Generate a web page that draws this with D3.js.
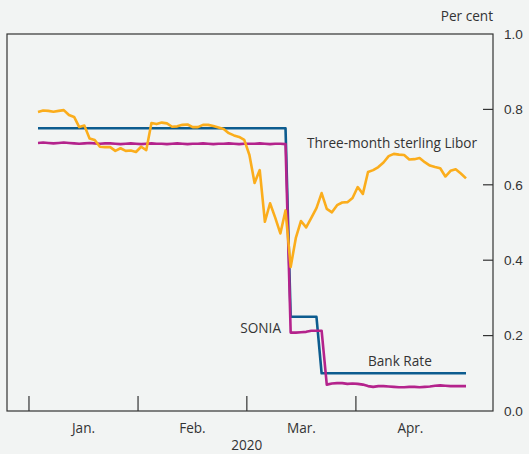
<!DOCTYPE html>
<html>
<head>
<meta charset="utf-8">
<script src="https://cdn.jsdelivr.net/npm/d3@7"></script>
<style>
  body { margin: 0; background: #f2f4f3; }
  svg { display: block; font-family: "Open Sans", sans-serif; }
  .lbl { fill: #333; font-size: 13.6px; }
</style>
</head>
<body>
<div id="chart"></div>
<script>
// daily observations (trading days, 2 Jan to 30 Apr 2020)
var libor = [
  0.793, 0.797, 0.796, 0.794, 0.796, 0.798, 0.785, 0.780, 0.753, 0.757,
  0.723, 0.719, 0.701, 0.700, 0.700, 0.690, 0.697, 0.690, 0.691, 0.687,
  0.701, 0.692, 0.764, 0.761, 0.765, 0.763, 0.754, 0.755, 0.759, 0.760,
  0.753, 0.753, 0.759, 0.759, 0.756, 0.752, 0.748, 0.737, 0.731, 0.727,
  0.719, 0.679, 0.605, 0.639, 0.502, 0.551, 0.513, 0.471, 0.532, 0.382,
  0.459, 0.504, 0.487, 0.512, 0.538, 0.578, 0.536, 0.527, 0.546, 0.553,
  0.554, 0.565, 0.594, 0.576, 0.634, 0.639, 0.647, 0.659, 0.676, 0.682,
  0.680, 0.679, 0.667, 0.668, 0.671, 0.660, 0.651, 0.647, 0.644, 0.622,
  0.637, 0.641, 0.630, 0.617
];
var sonia = [
  0.711, 0.712, 0.711, 0.710, 0.711, 0.712, 0.711, 0.710, 0.709, 0.710,
  0.711, 0.710, 0.709, 0.710, 0.710, 0.709, 0.708, 0.709, 0.710, 0.709,
  0.708, 0.709, 0.710, 0.709, 0.709, 0.708, 0.709, 0.710, 0.709, 0.708,
  0.709, 0.709, 0.710, 0.709, 0.708, 0.709, 0.709, 0.710, 0.709, 0.708,
  0.709, 0.709, 0.709, 0.710, 0.709, 0.708, 0.709, 0.709, 0.708, 0.208,
  0.208, 0.209, 0.210, 0.213, 0.213, 0.213, 0.070, 0.073, 0.074, 0.074,
  0.072, 0.073, 0.072, 0.070, 0.066, 0.064, 0.066, 0.066, 0.065, 0.064,
  0.063, 0.063, 0.064, 0.064, 0.063, 0.064, 0.065, 0.067, 0.068, 0.067,
  0.066, 0.066, 0.066, 0.066
];
var bankRate = [
  0.75, 0.75, 0.75, 0.75, 0.75, 0.75, 0.75, 0.75, 0.75, 0.75,
  0.75, 0.75, 0.75, 0.75, 0.75, 0.75, 0.75, 0.75, 0.75, 0.75,
  0.75, 0.75, 0.75, 0.75, 0.75, 0.75, 0.75, 0.75, 0.75, 0.75,
  0.75, 0.75, 0.75, 0.75, 0.75, 0.75, 0.75, 0.75, 0.75, 0.75,
  0.75, 0.75, 0.75, 0.75, 0.75, 0.75, 0.75, 0.75, 0.75, 0.25,
  0.25, 0.25, 0.25, 0.25, 0.25, 0.10, 0.10, 0.10, 0.10, 0.10,
  0.10, 0.10, 0.10, 0.10, 0.10, 0.10, 0.10, 0.10, 0.10, 0.10,
  0.10, 0.10, 0.10, 0.10, 0.10, 0.10, 0.10, 0.10, 0.10, 0.10,
  0.10, 0.10, 0.10, 0.10
];

// month boundaries on the observation index axis
var monthTicks = [-1.75, 19.4, 40.5, 61.65, 82.8];
var monthLabels = ["Jan.", "Feb.", "Mar.", "Apr."];
var yTicks = [0.0, 0.2, 0.4, 0.6, 0.8, 1.0];

var width = 529, height = 454;
var plotLeft = 7, plotRight = 493, plotTop = 34, plotBottom = 411;

var svg = d3.select("#chart").append("svg")
  .attr("width", width)
  .attr("height", height);

svg.append("rect")
  .attr("width", width).attr("height", height)
  .attr("fill", "#f2f4f3");

var x = d3.scaleLinear().domain([0, libor.length - 1]).range([38, 466]);
var y = d3.scaleLinear().domain([0, 1]).range([plotBottom, plotTop]);

// right axis, ticks pointing into the plot
var yAxis = d3.axisRight(y)
  .tickValues(yTicks)
  .tickFormat(d3.format(".1f"))
  .tickSize(0)
  .tickPadding(11);

var ya = svg.append("g")
  .attr("transform", "translate(" + plotRight + ",0)")
  .call(yAxis);
ya.select(".domain").remove();
ya.selectAll("text").attr("class", "lbl").attr("font-size", null).attr("font-family", null);

svg.append("g").selectAll("line")
  .data(yTicks.slice(1, -1))
  .enter().append("line")
  .attr("x1", plotRight - 10).attr("x2", plotRight)
  .attr("y1", function (d) { return y(d); })
  .attr("y2", function (d) { return y(d); })
  .attr("stroke", "#333").attr("stroke-width", 1.2);

// month boundary ticks along the bottom
svg.append("g").selectAll("line")
  .data(monthTicks.slice(0, 4))
  .enter().append("line")
  .attr("x1", function (d) { return x(d); })
  .attr("x2", function (d) { return x(d); })
  .attr("y1", plotBottom - 15).attr("y2", plotBottom)
  .attr("stroke", "#333").attr("stroke-width", 1.2);

svg.append("g").selectAll("text")
  .data(monthLabels)
  .enter().append("text")
  .attr("class", "lbl")
  .attr("x", function (d, i) { return x((monthTicks[i] + monthTicks[i + 1]) / 2); })
  .attr("y", 433)
  .attr("text-anchor", "middle")
  .text(function (d) { return d; });

svg.append("text").attr("class", "lbl")
  .attr("x", x(monthTicks[2])).attr("y", 450)
  .attr("text-anchor", "middle").text("2020");

svg.append("text").attr("class", "lbl")
  .attr("x", plotRight).attr("y", 21)
  .attr("text-anchor", "end").text("Per cent");

// series
var line = d3.line()
  .x(function (d, i) { return x(i); })
  .y(function (d) { return y(d); });

var series = [
  { values: bankRate, color: "#0d5c8f" },
  { values: sonia, color: "#b4238c" },
  { values: libor, color: "#fbad1c" }
];

svg.append("g").selectAll("path")
  .data(series)
  .enter().append("path")
  .attr("d", function (d) { return line(d.values); })
  .attr("fill", "none")
  .attr("stroke", function (d) { return d.color; })
  .attr("stroke-width", 2.6)
  .attr("stroke-linejoin", "round");

// frame
svg.append("rect")
  .attr("x", plotLeft).attr("y", plotTop)
  .attr("width", plotRight - plotLeft).attr("height", plotBottom - plotTop)
  .attr("fill", "none")
  .attr("stroke", "#333").attr("stroke-width", 1.2);

// series labels
svg.append("text").attr("class", "lbl")
  .attr("x", 307).attr("y", 148).text("Three-month sterling Libor");
svg.append("text").attr("class", "lbl")
  .attr("x", 281).attr("y", 333).attr("text-anchor", "end").text("SONIA");
svg.append("text").attr("class", "lbl")
  .attr("x", 368).attr("y", 366).text("Bank Rate");
</script>
</body>
</html>
